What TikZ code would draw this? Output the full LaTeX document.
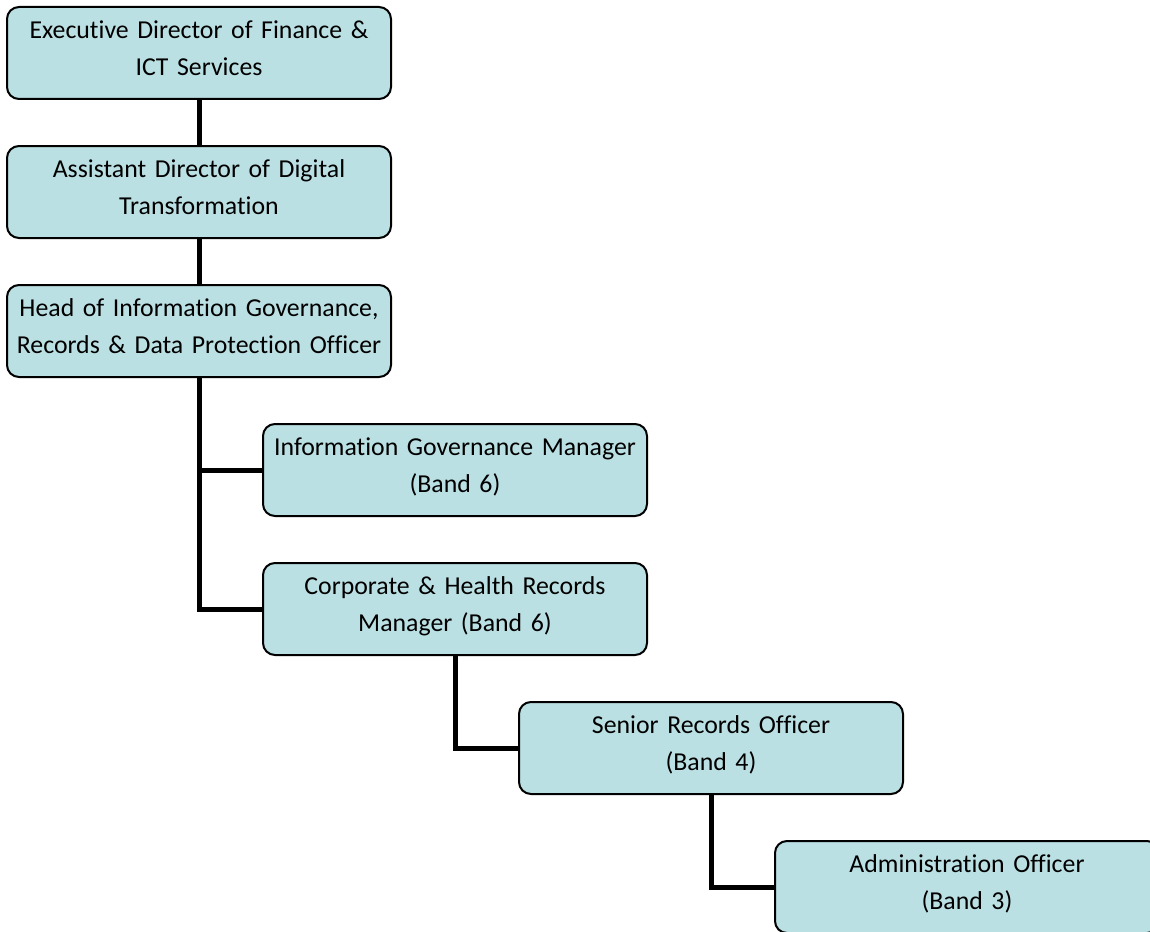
\documentclass[tikz,border=0pt]{standalone}
\usepackage{fontspec}
\setmainfont{Carlito}[Ligatures=NoCommon]
\usepackage{xcolor}
\usepackage{tikz}
\usetikzlibrary{positioning}
\definecolor{ink}{HTML}{000000}
\definecolor{paleteal}{HTML}{BBE0E3}
\tikzset{
  every node/.style={font=\fontsize{25.8pt}{37pt}\selectfont,text=ink},
  post/.style={draw=ink,line width=2pt,rounded corners=12pt,fill=paleteal,align=center,
    text width=376pt,inner xsep=4pt,inner ysep=0pt,text depth=46pt,minimum height=92pt},
  link/.style={draw=ink,line width=5pt}
}

\begin{document}
\begin{tikzpicture}[x=1pt,y=-1pt]
  \clip (0,0) rectangle (1150,931);
  \fill[white] (0,0) rectangle (1150,931);

  \node[post] (exec) at (199,53) {Executive Director of Finance \&\\ICT Services};
  \node[post,below=45pt of exec] (assist) {Assistant Director of Digital\\Transformation};
  \node[post,below=45pt of assist] (head) {Head of Information Governance,\\Records \& Data Protection Officer};
  \node[post,below=45pt of head,xshift=256pt] (igm) {Information Governance Manager\\(Band 6)};
  \node[post,below=45pt of igm] (corp) {Corporate \& Health Records\\Manager (Band 6)};
  \node[post,below=45pt of corp,xshift=256pt] (senior) {Senior Records Officer\\(Band 4)};
  \node[post,below=45pt of senior,xshift=256pt] (admin) {Administration Officer\\(Band 3)};

  \draw[link] (exec)--(assist); \draw[link] (assist)--(head);
  \draw[link] (head.south) |- (igm.west);
  \draw[link] (head.south) |- (corp.west);
  \draw[link] (corp.south) |- (senior.west);
  \draw[link] (senior.south) |- (admin.west);
\end{tikzpicture}
\end{document}
